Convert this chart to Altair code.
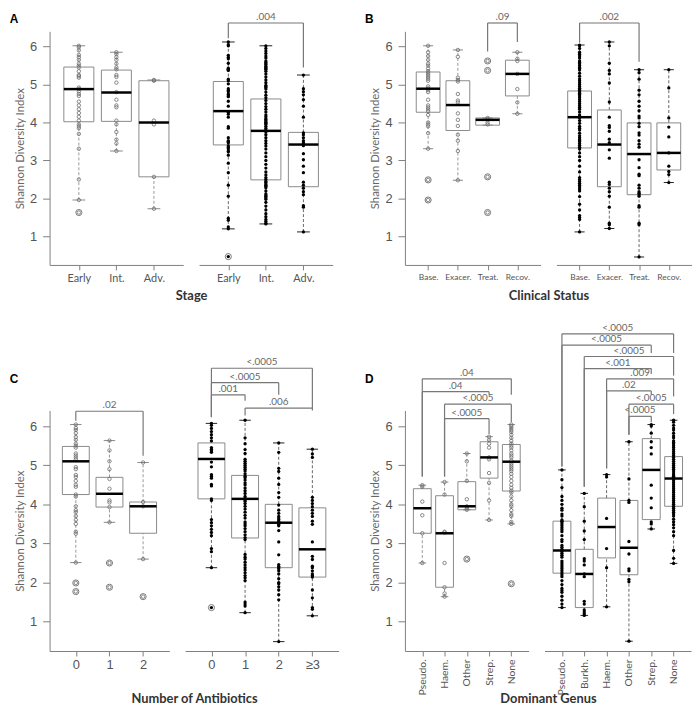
import json
import altair as alt
import pandas as pd

# ---------------- Panel A : Stage ----------------
A_CATS = ["Early", "Int.", "Adv."]
AL_LO = [1.96, 3.25, 1.73]
AL_Q1 = [4.02, 4.03, 2.57]
AL_MED = [4.88, 4.79, 4.00]
AL_Q3 = [5.46, 5.38, 5.10]
AL_HI = [6.02, 5.85, 5.12]
AL_PTS = [
    [6.02, 5.98, 5.9, 5.78, 5.72, 5.65, 5.55, 5.5, 5.45, 5.35, 5.25, 5.22, 5.18, 4.92, 4.88,
     4.82, 4.75, 4.7, 4.55, 4.45, 4.35, 4.25, 4.15, 4.05, 3.95, 3.9, 3.85, 3.7, 3.31, 2.5, 1.96],
    [5.85, 5.8, 5.72, 5.65, 5.55, 5.45, 5.4, 5.25, 5.2, 5.05, 4.8, 4.6, 4.45, 4.4, 4.05, 3.95,
     3.75, 3.55, 3.45, 3.25],
    [5.12, 5.1, 4.05, 3.95, 2.57, 1.73],
]
AL_OUT = [[1.63], [], []]

AR_LO = [1.20, 1.33, 1.12]
AR_Q1 = [3.41, 2.49, 2.31]
AR_MED = [4.30, 3.78, 3.42]
AR_Q3 = [5.08, 4.62, 3.74]
AR_HI = [6.12, 6.02, 5.25]
AR_PTS = [
    [6.12, 6.05, 6.02, 5.77, 5.72, 5.68, 5.56, 5.43, 5.4, 5.39, 5.37, 5.14, 5.1, 5.02, 4.89,
     4.85, 4.81, 4.75, 4.73, 4.7, 4.68, 4.56, 4.43, 4.27, 4.22, 4.14, 3.89, 3.85, 3.6, 3.52,
     3.5, 3.49, 3.47, 3.39, 3.35, 3.31, 3.25, 3.23, 3.14, 2.93, 2.68, 2.35, 2.06, 1.48, 1.43,
     1.25, 1.2],
    [6.02, 5.95, 5.88, 5.82, 5.75, 5.7, 5.62, 5.58, 5.55, 5.52, 5.48, 5.45, 5.42, 5.4, 5.35,
     5.28, 5.2, 5.12, 5.05, 4.98, 4.95, 4.92, 4.88, 4.8, 4.72, 4.65, 4.58, 4.5, 4.42, 4.35,
     4.28, 4.2, 4.15, 4.1, 4.07, 4.04, 4.01, 3.98, 3.95, 3.9, 3.85, 3.8, 3.75, 3.68, 3.6,
     3.52, 3.45, 3.38, 3.3, 3.2, 3.1, 3.0, 2.9, 2.8, 2.7, 2.62, 2.55, 2.5, 2.45, 2.42, 2.38,
     2.35, 2.32, 2.28, 2.2, 2.12, 2.08, 2.05, 2.02, 1.98, 1.9, 1.8, 1.7, 1.6, 1.52, 1.45,
     1.4, 1.35, 1.33],
    [5.25, 4.89, 4.81, 4.73, 4.6, 4.43, 4.14, 3.73, 3.68, 3.6, 3.52, 3.47, 3.42, 3.39, 3.18,
     3.02, 2.85, 2.68, 2.43, 2.35, 2.27, 2.18, 2.1, 1.81, 1.77, 1.12],
]
AR_OUT = [[0.47], [], []]
AR_BR_FROM = [0]
AR_BR_TO = [2]
AR_BR_LEVEL = [6.62]
AR_BR_END1 = [6.22]
AR_BR_END2 = [5.45]
AR_BR_TEXT = [".004"]

# ---------------- Panel B : Clinical Status ----------------
B_CATS = ["Base.", "Exacer.", "Treat.", "Recov."]
BL_LO = [3.31, 2.48, 3.93, 4.23]
BL_Q1 = [4.27, 3.79, 3.93, 4.70]
BL_MED = [4.89, 4.46, 4.07, 5.28]
BL_Q3 = [5.33, 5.10, 4.12, 5.64]
BL_HI = [6.02, 5.91, 4.12, 5.85]
BL_PTS = [
    [6.02, 5.85, 5.75, 5.65, 5.55, 5.5, 5.42, 5.35, 5.3, 5.25, 5.2, 5.15, 5.1, 4.95, 4.9, 4.85,
     4.8, 4.6, 4.45, 4.4, 4.35, 4.3, 4.2, 4.0, 3.95, 3.9, 3.72, 3.31],
    [5.91, 5.73, 5.18, 5.12, 5.08, 4.75, 4.58, 4.53, 4.24, 4.07, 3.91, 3.68, 3.52, 3.25, 2.48],
    [4.12, 4.08, 4.0, 3.95],
    [5.85, 5.68, 5.62, 5.28, 4.88, 4.53, 4.23],
]
BL_OUT = [[2.49, 1.96], [], [5.62, 5.37, 2.57, 1.63], []]
BL_BR_FROM = [2]
BL_BR_TO = [3]
BL_BR_LEVEL = [6.62]
BL_BR_END1 = [5.87]
BL_BR_END2 = [6.12]
BL_BR_TEXT = [".09"]

BR_LO = [1.12, 1.21, 0.46, 2.42]
BR_Q1 = [3.33, 2.31, 2.10, 2.75]
BR_MED = [4.14, 3.42, 3.17, 3.20]
BR_Q3 = [4.83, 4.33, 3.99, 3.99]
BR_HI = [6.04, 6.12, 5.39, 5.39]
BR_PTS = [
    [6.04, 6.02, 5.95, 5.85, 5.8, 5.75, 5.7, 5.62, 5.58, 5.55, 5.5, 5.45, 5.42, 5.38, 5.3,
     5.22, 5.15, 5.1, 5.05, 5.0, 4.95, 4.9, 4.88, 4.85, 4.8, 4.77, 4.74, 4.7, 4.65, 4.6, 4.55,
     4.5, 4.45, 4.4, 4.35, 4.28, 4.2, 4.15, 4.12, 4.05, 3.98, 3.9, 3.85, 3.8, 3.72, 3.65, 3.6,
     3.55, 3.52, 3.5, 3.45, 3.4, 3.35, 3.3, 3.2, 3.1, 3.0, 2.85, 2.7, 2.55, 2.5, 2.45, 2.4,
     2.35, 2.3, 2.25, 2.2, 2.05, 1.85, 1.7, 1.55, 1.5, 1.45, 1.12],
    [6.12, 6.02, 5.56, 5.37, 5.28, 5.04, 4.54, 4.14, 3.92, 3.87, 3.77, 3.56, 3.47, 3.28, 3.06,
     2.43, 2.37, 2.27, 2.18, 2.06, 1.77, 1.35, 1.31, 1.21],
    [5.39, 5.31, 5.14, 4.85, 4.73, 4.56, 4.43, 4.31, 4.17, 4.12, 3.98, 3.89, 3.73, 3.67, 3.52,
     3.43, 3.35, 3.02, 2.81, 2.64, 2.6, 2.35, 2.27, 2.18, 2.14, 2.1, 2.06, 1.81, 1.77, 1.35,
     1.31, 0.46],
    [5.39, 4.91, 4.12, 3.88, 3.62, 3.2, 2.85, 2.71, 2.63, 2.42],
]
BR_OUT = [[], [], [], []]
BR_BR_FROM = [0]
BR_BR_TO = [2]
BR_BR_LEVEL = [6.62]
BR_BR_END1 = [6.1]
BR_BR_END2 = [5.6]
BR_BR_TEXT = [".002"]

# ---------------- Panel C : Number of Antibiotics ----------------
CL_CATS = ["0", "1", "2"]
CL_LO = [2.51, 3.54, 2.60]
CL_Q1 = [4.25, 3.93, 3.26]
CL_MED = [5.10, 4.27, 3.95]
CL_Q3 = [5.48, 4.69, 4.06]
CL_HI = [6.04, 5.63, 5.07]
CL_PTS = [
    [6.04, 5.95, 5.9, 5.82, 5.72, 5.65, 5.55, 5.5, 5.45, 5.3, 5.25, 5.2, 5.15, 4.95, 4.9, 4.75,
     4.7, 4.6, 4.5, 4.45, 4.25, 4.2, 3.95, 3.85, 3.8, 3.7, 3.6, 3.5, 3.3, 3.25, 2.51],
    [5.63, 5.38, 5.1, 4.9, 4.65, 4.4, 4.1, 4.05, 3.93, 3.54],
    [5.07, 4.06, 3.95, 2.6],
]
CL_OUT = [[1.99, 1.77], [2.5, 1.88], [1.64]]
CL_BR_FROM = [0]
CL_BR_TO = [2]
CL_BR_LEVEL = [6.38]
CL_BR_END1 = [6.14]
CL_BR_END2 = [5.24]
CL_BR_TEXT = [".02"]

CR_CATS = ["0", "1", "2", "\u22653"]
CR_LO = [2.38, 1.23, 0.49, 1.15]
CR_Q1 = [4.14, 3.14, 2.38, 2.14]
CR_MED = [5.16, 4.14, 3.53, 2.85]
CR_Q3 = [5.57, 4.74, 4.00, 3.91]
CR_HI = [6.07, 6.15, 5.57, 5.41]
CR_PTS = [
    [6.07, 6.02, 5.94, 5.86, 5.78, 5.70, 5.62, 5.45, 5.41, 5.37, 5.33, 5.08, 4.96, 4.76, 4.72,
     4.67, 4.51, 4.47, 4.14, 4.10, 3.61, 3.53, 3.45, 3.36, 3.28, 3.20, 2.87, 2.79, 2.38],
    [6.15, 5.7, 5.55, 5.4, 5.3, 5.15, 5.1, 5.05, 5.0, 4.95, 4.9, 4.85, 4.78, 4.72, 4.68, 4.62,
     4.55, 4.5, 4.42, 4.35, 4.28, 4.2, 4.15, 4.12, 4.08, 4.02, 3.95, 3.88, 3.8, 3.72, 3.65,
     3.55, 3.5, 3.45, 3.38, 3.3, 3.22, 3.15, 3.1, 2.72, 2.65, 2.6, 2.52, 2.45, 2.38, 2.32,
     2.25, 2.18, 2.12, 2.05, 1.5, 1.45, 1.4, 1.23],
    [5.57, 5.33, 4.92, 4.84, 4.67, 4.51, 4.3, 4.18, 3.98, 3.85, 3.77, 3.69, 3.65, 3.61, 3.57,
     3.53, 3.5, 3.48, 3.45, 3.33, 3.04, 2.71, 2.46, 2.42, 2.38, 2.35, 2.3, 2.22, 2.1, 2.0,
     1.97, 1.89, 1.81, 1.69, 1.56, 0.49],
    [5.41, 5.29, 5.2, 4.18, 4.1, 4.02, 3.94, 3.85, 3.77, 3.69, 3.57, 3.49, 3.04, 2.67, 2.59,
     2.42, 2.38, 2.3, 2.22, 2.18, 2.14, 1.81, 1.61, 1.36, 1.32, 1.15],
]
CR_OUT = [[1.36], [], [], []]
CR_BR_FROM = [0, 0, 0, 1]
CR_BR_TO = [3, 2, 1, 3]
CR_BR_LEVEL = [7.48, 7.11, 6.80, 6.46]
CR_BR_END1 = [6.23, 6.23, 6.23, 6.27]
CR_BR_END2 = [6.46, 6.80, 6.65, 6.40]
CR_BR_TEXT = ["<.0005", "<.0005", ".001", ".006"]

# ---------------- Panel D : Dominant Genus ----------------
DL_CATS = ["Pseudo.", "Haem.", "Other", "Strep.", "None"]
DL_LO = [2.50, 1.64, 3.86, 3.60, 3.50]
DL_Q1 = [3.26, 1.88, 3.86, 4.67, 4.34]
DL_MED = [3.90, 3.26, 3.95, 5.20, 5.09]
DL_Q3 = [4.40, 4.22, 4.58, 5.60, 5.53]
DL_HI = [4.49, 4.57, 5.30, 5.73, 6.04]
DL_PTS = [
    [4.49, 4.45, 4.07, 3.72, 3.26, 2.5],
    [4.57, 4.25, 3.3, 3.28, 2.5, 1.88, 1.72, 1.64],
    [5.3, 5.1, 4.6, 4.13, 3.95, 3.9, 3.86],
    [5.73, 5.65, 5.55, 5.45, 5.2, 5.15, 4.8, 4.55, 4.1, 3.6],
    [6.04, 6.0, 5.95, 5.9, 5.85, 5.78, 5.7, 5.62, 5.55, 5.5, 5.45, 5.38, 5.3, 5.25, 5.2, 5.12,
     5.05, 5.0, 4.95, 4.9, 4.85, 4.78, 4.7, 4.6, 4.5, 4.42, 4.35, 4.3, 4.2, 4.1, 4.0, 3.95,
     3.85, 3.75, 3.7, 3.55, 3.5],
]
DL_OUT = [[], [], [2.6], [], [1.97]]
DL_BR_FROM = [0, 0, 1, 1]
DL_BR_TO = [4, 3, 4, 3]
DL_BR_LEVEL = [7.21, 6.88, 6.56, 6.19]
DL_BR_END1 = [4.71, 4.71, 4.71, 4.71]
DL_BR_END2 = [6.80, 6.80, 6.10, 5.80]
DL_BR_TEXT = [".04", ".04", "<.0005", "<.0005"]

DR_CATS = ["Pseudo.", "Burkh.", "Haem.", "Other", "Strep.", "None"]
DR_LO = [1.36, 1.16, 1.38, 0.50, 3.37, 2.49]
DR_Q1 = [2.24, 1.36, 2.63, 2.20, 3.61, 3.95]
DR_MED = [2.82, 2.22, 3.42, 2.89, 4.88, 4.66]
DR_Q3 = [3.57, 2.85, 4.16, 4.10, 5.68, 5.22]
DR_HI = [4.88, 4.28, 4.76, 5.60, 6.04, 6.15]
DR_PTS = [
    [4.88, 4.63, 4.43, 4.2, 4.1, 4.0, 3.9, 3.85, 3.75, 3.7, 3.6, 3.57, 3.55, 3.5, 3.45, 3.4,
     3.35, 3.3, 3.2, 3.1, 3.05, 2.95, 2.9, 2.85, 2.8, 2.75, 2.7, 2.65, 2.55, 2.5, 2.45, 2.4,
     2.35, 2.3, 2.25, 2.2, 2.15, 2.05, 1.95, 1.85, 1.8, 1.75, 1.65, 1.55, 1.45, 1.36],
    [4.28, 3.94, 3.57, 3.32, 3.1, 2.61, 2.55, 2.45, 2.22, 2.15, 1.52, 1.45, 1.3, 1.25, 1.2, 1.16],
    [4.76, 4.7, 3.64, 2.87, 2.38, 1.38],
    [5.6, 4.65, 4.1, 4.05, 3.05, 2.73, 2.35, 2.3, 2.08, 2.02, 0.5],
    [6.04, 6.0, 5.82, 5.6, 5.45, 5.29, 4.49, 4.16, 3.91, 3.55, 3.5, 3.37],
    [6.15, 6.1, 6.02, 5.95, 5.9, 5.82, 5.75, 5.7, 5.62, 5.58, 5.55, 5.5, 5.45, 5.4, 5.35, 5.3,
     5.25, 5.2, 5.15, 5.1, 5.05, 5.0, 4.95, 4.9, 4.85, 4.8, 4.75, 4.72, 4.68, 4.65, 4.6, 4.55,
     4.5, 4.45, 4.4, 4.35, 4.3, 4.25, 4.2, 4.15, 4.1, 4.05, 4.0, 3.95, 3.9, 3.85, 3.8, 3.75,
     3.7, 3.62, 3.55, 3.48, 3.4, 3.3, 3.2, 2.82, 2.62, 2.49],
]
DR_OUT = [[], [], [], [], [], []]
DR_BR_FROM = [0, 0, 1, 1, 2, 2, 3, 3]
DR_BR_TO = [5, 4, 5, 4, 5, 4, 5, 4]
DR_BR_LEVEL = [8.36, 8.07, 7.78, 7.47, 7.21, 6.90, 6.56, 6.25]
DR_BR_END1 = [4.97, 4.97, 4.45, 4.45, 4.92, 4.92, 5.78, 5.78]
DR_BR_END2 = [7.87, 7.87, 7.29, 7.33, 6.76, 6.80, 6.31, 6.10]
DR_BR_TEXT = ["<.0005", "<.0005", "<.0005", "<.001", ".009", ".02", "<.0005", "<.0005"]

# ---------------- builders ----------------
H_TOP = 236
H_BOTTOM = 243
Y_DOMAIN = [0.25, 6.4]
GAP = 16
GRAY = "#808080"


def subplot(cats, lo, q1, med, q3, hi, pts, outs, br, filled, width, height, show_y,
            label_font, label_size, label_angle=0, letter=None, letter_dy=-13,
            title=None, title_x=0, title_y=25):
    n = len(cats)
    xs = alt.Scale(domain=[-0.78, n - 1 + 0.78], nice=False, zero=False)
    ax_kw = dict(values=list(range(n)),
                 labelExpr=json.dumps(cats, ensure_ascii=False) + "[datum.value]",
                 grid=False, tickSize=5, tickColor=GRAY, domainColor=GRAY,
                 labelColor="#555", labelFont=label_font, labelFontSize=label_size,
                 labelOverlap=False, labelFlush=False, labelPadding=3)
    if label_angle:
        ax_kw.update(labelAngle=label_angle, labelAlign="right", labelBaseline="middle")
    if title:
        ax_kw.update(title=title, titleX=title_x, titleY=title_y, titleAlign="center",
                     titleBaseline="top", titleFont="Lato", titleFontSize=13,
                     titleFontWeight="bold", titleColor="#333")
    else:
        ax_kw.update(title=None)
    xaxis = alt.Axis(**ax_kw)
    ys = alt.Scale(domain=Y_DOMAIN, nice=False, zero=False)
    if show_y:
        yaxis = alt.Axis(values=[1, 2, 3, 4, 5, 6], format="d", grid=False, tickSize=7,
                         tickColor=GRAY, domainColor=GRAY, labelColor="#555",
                         labelFont="Liberation Sans", labelFontSize=13, labelPadding=6,
                         title="Shannon Diversity Index", titleFont="Lato",
                         titleFontSize=11.5, titleFontWeight="normal", titleColor="#666",
                         titlePadding=4)
    else:
        yaxis = None

    def X(f):
        return alt.X(f + ":Q", scale=xs, axis=xaxis)

    def Y(f):
        return alt.Y(f + ":Q", scale=ys, axis=yaxis)

    bdf = pd.DataFrame({"i": list(range(n)), "lo": lo, "q1": q1, "med": med, "q3": q3, "hi": hi})
    bb = alt.Chart(bdf).transform_calculate(
        x1="datum.i - 0.4", x2="datum.i + 0.4", c1="datum.i - 0.17", c2="datum.i + 0.17")
    wcol = "#999" if not filled else "#666"
    ccol = "#888" if not filled else "#222"
    layers = [
        bb.mark_rule(color=wcol, strokeDash=[3, 2], strokeWidth=1).encode(x=X("i"), y=Y("lo"), y2="q1"),
        bb.mark_rule(color=wcol, strokeDash=[3, 2], strokeWidth=1).encode(x=X("i"), y=Y("q3"), y2="hi"),
        bb.mark_rect(fillOpacity=0, stroke="#8a8a8a", strokeWidth=1).encode(x=X("x1"), x2="x2", y=Y("q1"), y2="q3"),
        bb.mark_rule(color=ccol, strokeWidth=1).encode(x=X("c1"), x2="c2", y=Y("lo")),
        bb.mark_rule(color=ccol, strokeWidth=1).encode(x=X("c1"), x2="c2", y=Y("hi")),
    ]
    prow = [(i, v) for i, lst in enumerate(pts) for v in lst]
    orow = [(i, v) for i, lst in enumerate(outs) for v in lst]
    pdf = pd.DataFrame(prow + orow, columns=["i", "v"])
    if filled:
        dots = alt.Chart(pdf).mark_circle(size=11, color="black", opacity=1)
    else:
        dots = alt.Chart(pdf).mark_point(shape="circle", filled=False, size=12, color="#6a6a6a",
                                         strokeWidth=0.8, opacity=1)
    layers.append(dots.encode(x=X("i"), y=Y("v")))
    if orow:
        odf = pd.DataFrame(orow, columns=["i", "v"])
        layers.append(alt.Chart(odf).mark_point(shape="circle", filled=False, size=38, color="#777",
                                                strokeWidth=1, opacity=1).encode(x=X("i"), y=Y("v")))
    layers.append(bb.mark_rule(color="black", strokeWidth=2.5).encode(x=X("x1"), x2="x2", y=Y("med")))
    if br is not None:
        frm, to, lev, e1, e2, txt = br
        brdf = pd.DataFrame({"a": frm, "b": to, "lev": lev, "e1": e1, "e2": e2, "txt": txt})
        bc = alt.Chart(brdf).transform_calculate(mid="(datum.a + datum.b) / 2")
        bcol = "#777"
        layers += [
            bc.mark_rule(color=bcol, strokeWidth=1.2).encode(x=X("a"), x2="b", y=Y("lev")),
            bc.mark_rule(color=bcol, strokeWidth=1.2).encode(x=X("a"), y=Y("lev"), y2="e1"),
            bc.mark_rule(color=bcol, strokeWidth=1.2).encode(x=X("b"), y=Y("lev"), y2="e2"),
            bc.mark_text(baseline="bottom", dy=-1, fontSize=10, font="Lato", color="#666").encode(
                x=X("mid"), y=Y("lev"), text="txt:N"),
        ]
    if letter:
        layers.append(alt.Chart(pd.DataFrame({"t": [letter]})).mark_text(
            font="Liberation Sans", fontWeight="bold", fontSize=12, color="black",
            align="center", baseline="middle").encode(
            text="t:N", x=alt.value(-36), y=alt.value(letter_dy)))
    return alt.layer(*layers).properties(width=width, height=height)


def spacer(width, height):
    return alt.Chart(pd.DataFrame({"s": [0]})).mark_point(opacity=0).encode(
        x=alt.X("s:Q", axis=None), y=alt.Y("s:Q", axis=None)).properties(width=width, height=height)


def center_offset(wl, wr):
    # x of the pair's centre, measured from the left edge of the right panel
    return (wl + GAP + wr) / 2 - (wl + GAP)


W_AL, W_AR, W_BL, W_BR = 135, 135, 137, 137
W_CL, W_CR, W_DL, W_DR = 121, 155, 125, 148

AL = subplot(A_CATS, AL_LO, AL_Q1, AL_MED, AL_Q3, AL_HI, AL_PTS, AL_OUT, None, False,
             W_AL, H_TOP, True, "Lato", 11, letter="A", letter_dy=-12)
AR = subplot(A_CATS, AR_LO, AR_Q1, AR_MED, AR_Q3, AR_HI, AR_PTS, AR_OUT,
             (AR_BR_FROM, AR_BR_TO, AR_BR_LEVEL, AR_BR_END1, AR_BR_END2, AR_BR_TEXT),
             True, W_AR, H_TOP, False, "Lato", 11,
             title="Stage", title_x=center_offset(W_AL, W_AR), title_y=25)
BL = subplot(B_CATS, BL_LO, BL_Q1, BL_MED, BL_Q3, BL_HI, BL_PTS, BL_OUT,
             (BL_BR_FROM, BL_BR_TO, BL_BR_LEVEL, BL_BR_END1, BL_BR_END2, BL_BR_TEXT),
             False, W_BL, H_TOP, True, "Lato", 8.5, letter="B", letter_dy=-12)
BRc = subplot(B_CATS, BR_LO, BR_Q1, BR_MED, BR_Q3, BR_HI, BR_PTS, BR_OUT,
              (BR_BR_FROM, BR_BR_TO, BR_BR_LEVEL, BR_BR_END1, BR_BR_END2, BR_BR_TEXT),
              True, W_BR, H_TOP, False, "Lato", 8.5,
              title="Clinical Status", title_x=center_offset(W_BL, W_BR), title_y=25)
CL = subplot(CL_CATS, CL_LO, CL_Q1, CL_MED, CL_Q3, CL_HI, CL_PTS, CL_OUT,
             (CL_BR_FROM, CL_BR_TO, CL_BR_LEVEL, CL_BR_END1, CL_BR_END2, CL_BR_TEXT),
             False, W_CL, H_BOTTOM, True, "Liberation Sans", 13, letter="C", letter_dy=-32)
CR = subplot(CR_CATS, CR_LO, CR_Q1, CR_MED, CR_Q3, CR_HI, CR_PTS, CR_OUT,
             (CR_BR_FROM, CR_BR_TO, CR_BR_LEVEL, CR_BR_END1, CR_BR_END2, CR_BR_TEXT),
             True, W_CR, H_BOTTOM, False, "Liberation Sans", 13,
             title="Number of Antibiotics", title_x=center_offset(W_CL, W_CR), title_y=42)
DL = subplot(DL_CATS, DL_LO, DL_Q1, DL_MED, DL_Q3, DL_HI, DL_PTS, DL_OUT,
             (DL_BR_FROM, DL_BR_TO, DL_BR_LEVEL, DL_BR_END1, DL_BR_END2, DL_BR_TEXT),
             False, W_DL, H_BOTTOM, True, "Lato", 10.5, label_angle=270, letter="D", letter_dy=-32)
DR = subplot(DR_CATS, DR_LO, DR_Q1, DR_MED, DR_Q3, DR_HI, DR_PTS, DR_OUT,
             (DR_BR_FROM, DR_BR_TO, DR_BR_LEVEL, DR_BR_END1, DR_BR_END2, DR_BR_TEXT),
             True, W_DR, H_BOTTOM, False, "Lato", 10.5, label_angle=270,
             title="Dominant Genus", title_x=center_offset(W_DL, W_DR), title_y=42)

row1 = alt.hconcat(AL, AR, spacer(41, H_TOP), BL, BRc, spacing=GAP, bounds="flush")
row2 = alt.hconcat(CL, CR, spacer(35, H_BOTTOM), DL, DR, spacing=GAP, bounds="flush")
chart = alt.vconcat(row1, row2, spacing=20).properties(
    padding={"top": 0, "left": 1, "right": 0, "bottom": 0}).configure_view(stroke=None)

chart.save("out.html", embed_options={"renderer": "svg", "actions": False})
